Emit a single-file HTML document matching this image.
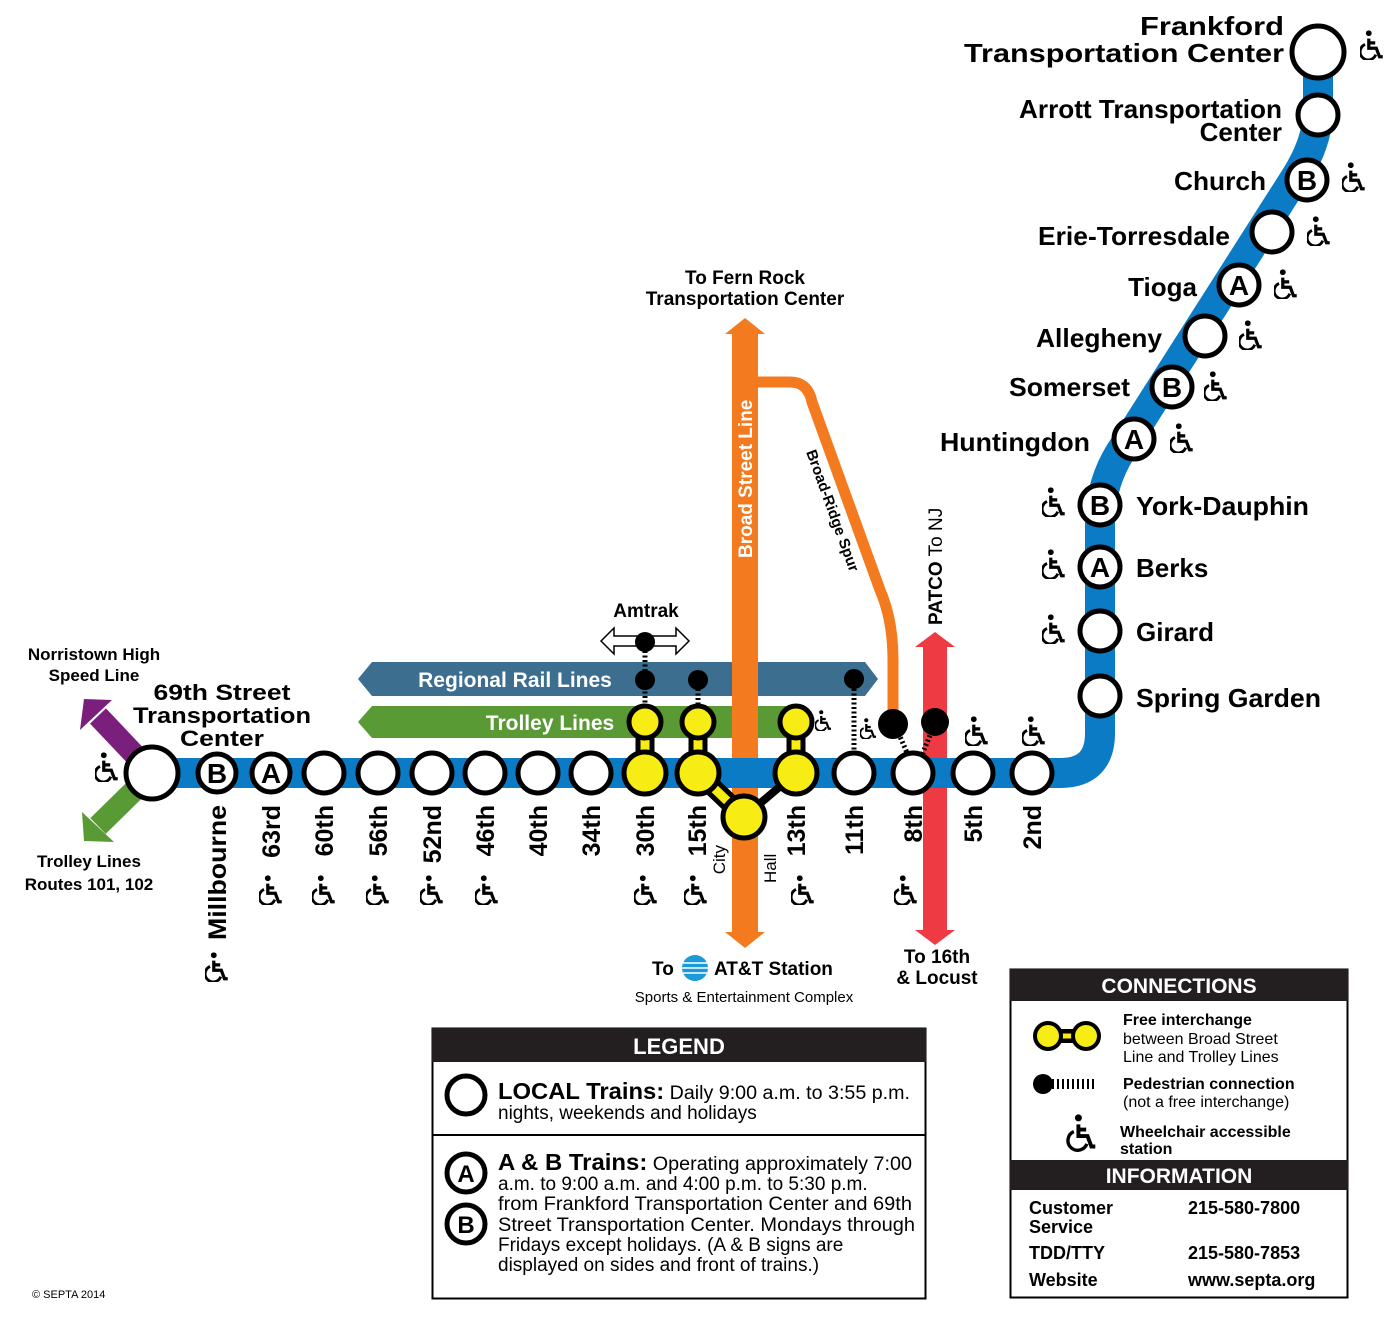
<!DOCTYPE html>
<html><head><meta charset="utf-8"><style>
html,body{margin:0;padding:0;background:#fff}
svg{display:block}
text{font-family:"Liberation Sans",Arial,sans-serif}
.b{font-weight:bold}
</style></head><body>
<svg width="1400" height="1318" viewBox="0 0 1400 1318" xmlns="http://www.w3.org/2000/svg">
<defs>
<symbol id="wc" viewBox="0 0 22 28">
<circle cx="8" cy="3" r="2.7" fill="#000"/>
<path d="M8,8 V17 H15 L18,25 H21 M8,12 H14" fill="none" stroke="#000" stroke-width="3"/>
<path d="M4.5,13.5 A7.5,7.5 0 1 0 14.5,23" fill="none" stroke="#000" stroke-width="2.6"/>
</symbol>
</defs>
<line x1="152" y1="773" x2="98" y2="716" stroke="#7b1f7d" stroke-width="22"/>
<polygon points="84,699 112,700 80,730" fill="#7b1f7d"/>
<line x1="152" y1="773" x2="98" y2="826" stroke="#5a9a35" stroke-width="22"/>
<polygon points="84,841 82,812 114,842" fill="#5a9a35"/>

<rect x="732" y="332" width="26" height="604" fill="#f47a20"/>
<polygon points="745,318 725,334 765,334" fill="#f47a20"/>
<polygon points="745,948 725,932 765,932" fill="#f47a20"/>
<path d="M757,382 H790 Q808,382 812,402 L880,590 Q893,620 893,660 V720" fill="none" stroke="#f47a20" stroke-width="11"/>
<rect x="923" y="645" width="24" height="290" fill="#ee3a43"/>
<polygon points="935,632 915,647 955,647" fill="#ee3a43"/>
<polygon points="935,945 915,930 955,930" fill="#ee3a43"/>

<polygon points="358,679 372,662 865,662 878,679 865,696 372,696" fill="#3b6e8f"/>
<text x="515" y="687" fill="#fff" class="b" font-size="21" text-anchor="middle">Regional Rail Lines</text>
<polygon points="358,722 372,706 800,706 800,738 372,738" fill="#5a9a35"/>
<text x="550" y="730" fill="#fff" class="b" font-size="21" text-anchor="middle">Trolley Lines</text>
<rect x="732" y="655" width="26" height="90" fill="#f47a20"/>

<path d="M152,773 H1060 Q1100,773 1100,733 V525 Q1100,480 1125,445 L1295,178 Q1318,142 1318,110 V52" fill="none" stroke="#0a7bc4" stroke-width="30"/>

<text x="646" y="617" class="b" font-size="19" text-anchor="middle">Amtrak</text>
<polygon points="601,641 614,628 614,636 676,636 676,628 689,641 676,654 676,646 614,646 614,654" fill="#fff" stroke="#000" stroke-width="1.5"/>
<g stroke="#000" stroke-width="5" stroke-dasharray="2,2.5">
<line x1="645" y1="642" x2="645" y2="720"/>
<line x1="698" y1="680" x2="698" y2="720"/>
<line x1="854" y1="680" x2="854" y2="758"/>
<line x1="895" y1="725" x2="908" y2="755"/>
<line x1="935" y1="723" x2="922" y2="755"/>
</g>
<g fill="#000">
<circle cx="645" cy="642" r="10"/><circle cx="645" cy="680" r="10"/><circle cx="698" cy="680" r="10"/><circle cx="854" cy="679" r="10"/>
<circle cx="893" cy="724" r="15"/><circle cx="935" cy="722" r="14"/>
</g>

<g stroke="#000" stroke-width="19" fill="none" stroke-linecap="round">
<path d="M645,722 V773 M698,722 V773 L744,817 M796,773 V722"/>
</g>
<line x1="744" y1="817" x2="796" y2="773" stroke="#000" stroke-width="8"/>
<g stroke="#f7ec13" stroke-width="9" fill="none">
<path d="M645,722 V773 M698,722 V773 L744,817 M796,773 V722"/>
</g>
<g fill="#f7ec13" stroke="#000" stroke-width="5">
<circle cx="645" cy="722" r="16"/><circle cx="645" cy="773" r="21"/>
<circle cx="698" cy="722" r="16"/><circle cx="698" cy="773" r="21"/>
<circle cx="796" cy="722" r="16"/><circle cx="796" cy="773" r="21"/>
<circle cx="744" cy="817" r="21"/>
</g>

<g fill="#fff" stroke="#000" stroke-width="5">
<circle cx="152" cy="773" r="26"/>
<circle cx="217" cy="773" r="19"/><circle cx="271" cy="773" r="19"/>
<circle cx="324" cy="773" r="20"/><circle cx="378" cy="773" r="20"/><circle cx="432" cy="773" r="20"/><circle cx="485" cy="773" r="20"/><circle cx="538" cy="773" r="20"/><circle cx="591" cy="773" r="20"/>
<circle cx="854" cy="773" r="20"/><circle cx="913" cy="773" r="20"/><circle cx="973" cy="773" r="20"/><circle cx="1032" cy="773" r="20"/>
<circle cx="1100" cy="696" r="20"/><circle cx="1100" cy="631" r="20"/><circle cx="1100" cy="567" r="20"/><circle cx="1100" cy="505" r="20"/>
<circle cx="1134" cy="439" r="20"/><circle cx="1172" cy="387" r="20"/><circle cx="1205" cy="336" r="20"/><circle cx="1239" cy="285" r="20"/>
<circle cx="1272" cy="232" r="20"/><circle cx="1307" cy="180" r="20"/><circle cx="1318" cy="115" r="20"/><circle cx="1318" cy="52" r="26"/>
</g>
<g class="b" font-size="28" text-anchor="middle">
<text x="217" y="783">B</text><text x="271" y="783">A</text>
<text x="1100" y="577">A</text><text x="1100" y="515">B</text><text x="1134" y="449">A</text><text x="1172" y="397">B</text><text x="1239" y="295">A</text><text x="1307" y="190">B</text>
</g>

<g class="b" font-size="25" text-anchor="end">
<text transform="translate(226,805) rotate(-90)" textLength="135" lengthAdjust="spacingAndGlyphs">Millbourne</text>
<text transform="translate(280,805) rotate(-90)">63rd</text>
<text transform="translate(333,805) rotate(-90)">60th</text>
<text transform="translate(387,805) rotate(-90)">56th</text>
<text transform="translate(441,805) rotate(-90)">52nd</text>
<text transform="translate(494,805) rotate(-90)">46th</text>
<text transform="translate(547,805) rotate(-90)">40th</text>
<text transform="translate(600,805) rotate(-90)">34th</text>
<text transform="translate(654,805) rotate(-90)">30th</text>
<text transform="translate(706,805) rotate(-90)">15th</text>
<text transform="translate(805,805) rotate(-90)">13th</text>
<text transform="translate(863,805) rotate(-90)">11th</text>
<text transform="translate(922,805) rotate(-90)">8th</text>
<text transform="translate(982,805) rotate(-90)">5th</text>
<text transform="translate(1041,805) rotate(-90)">2nd</text>
</g>
<text transform="translate(725,845) rotate(-90)" font-size="17" text-anchor="end">City</text>
<text transform="translate(776,883) rotate(-90)" font-size="17">Hall</text>

<g>
<use href="#wc" x="205" y="952" width="24" height="30"/>
<use href="#wc" x="259" y="875" width="24" height="30"/>
<use href="#wc" x="312" y="875" width="24" height="30"/>
<use href="#wc" x="366" y="875" width="24" height="30"/>
<use href="#wc" x="420" y="875" width="24" height="30"/>
<use href="#wc" x="475" y="875" width="24" height="30"/>
<use href="#wc" x="634" y="875" width="24" height="30"/>
<use href="#wc" x="684" y="875" width="24" height="30"/>
<use href="#wc" x="791" y="875" width="24" height="30"/>
<use href="#wc" x="894" y="875" width="24" height="30"/>
<use href="#wc" x="95" y="752" width="24" height="30"/>
<use href="#wc" x="965" y="716" width="24" height="30"/>
<use href="#wc" x="1022" y="716" width="24" height="30"/>
<use href="#wc" x="1042" y="487" width="24" height="30"/>
<use href="#wc" x="1042" y="549" width="24" height="30"/>
<use href="#wc" x="1042" y="614" width="24" height="30"/>
<use href="#wc" x="1170" y="423" width="24" height="30"/>
<use href="#wc" x="1204" y="371" width="24" height="30"/>
<use href="#wc" x="1239" y="320" width="24" height="30"/>
<use href="#wc" x="1274" y="269" width="24" height="30"/>
<use href="#wc" x="1307" y="216" width="24" height="30"/>
<use href="#wc" x="1342" y="162" width="24" height="30"/>
<use href="#wc" x="1360" y="30" width="24" height="30"/>
<use href="#wc" x="815" y="710" width="17" height="21"/>
<use href="#wc" x="860" y="718" width="17" height="21"/>
</g>

<g class="b" font-size="26">
<text x="1136" y="707" textLength="185" lengthAdjust="spacingAndGlyphs">Spring Garden</text>
<text x="1136" y="641">Girard</text>
<text x="1136" y="577">Berks</text>
<text x="1136" y="515" textLength="173" lengthAdjust="spacingAndGlyphs">York-Dauphin</text>
</g>
<g class="b" font-size="26" text-anchor="end">
<text x="1090" y="451" textLength="150" lengthAdjust="spacingAndGlyphs">Huntingdon</text>
<text x="1130" y="396" textLength="121" lengthAdjust="spacingAndGlyphs">Somerset</text>
<text x="1162" y="347" textLength="126" lengthAdjust="spacingAndGlyphs">Allegheny</text>
<text x="1197" y="296">Tioga</text>
<text x="1230" y="245" textLength="192" lengthAdjust="spacingAndGlyphs">Erie-Torresdale</text>
<text x="1266" y="190" textLength="92" lengthAdjust="spacingAndGlyphs">Church</text>
<text x="1282" y="118" textLength="263" lengthAdjust="spacingAndGlyphs">Arrott Transportation</text>
<text x="1282" y="141">Center</text>
<text x="1284" y="35" textLength="144" lengthAdjust="spacingAndGlyphs">Frankford</text>
<text x="1284" y="62" textLength="320" lengthAdjust="spacingAndGlyphs">Transportation Center</text>
</g>
<g class="b" font-size="22" text-anchor="middle">
<text x="222" y="700" textLength="137" lengthAdjust="spacingAndGlyphs">69th Street</text>
<text x="222" y="723" textLength="178" lengthAdjust="spacingAndGlyphs">Transportation</text>
<text x="222" y="746" textLength="84" lengthAdjust="spacingAndGlyphs">Center</text>
</g>
<g class="b" font-size="17" text-anchor="middle">
<text x="94" y="660">Norristown High</text>
<text x="94" y="681">Speed Line</text>
<text x="89" y="867">Trolley Lines</text>
<text x="89" y="890">Routes 101, 102</text>
<text x="745" y="284" font-size="19">To Fern Rock</text>
<text x="745" y="305" font-size="19">Transportation Center</text>
<text x="937" y="963" font-size="19">To 16th</text>
<text x="937" y="984" font-size="19">&amp; Locust</text>
</g>
<text transform="translate(752,558) rotate(-90)" class="b" font-size="19" fill="#fff">Broad Street Line</text>
<text transform="translate(806,452) rotate(70)" class="b" font-size="15">Broad-Ridge Spur</text>
<text transform="translate(942,625) rotate(-90)" font-size="19"><tspan class="b">PATCO</tspan> To NJ</text>

<text x="652" y="975" class="b" font-size="19">To</text>
<circle cx="695" cy="968" r="13" fill="#1a9ad6"/>
<g stroke="#fff" stroke-width="1.5"><line x1="683" y1="963" x2="707" y2="963"/><line x1="682" y1="968" x2="708" y2="968"/><line x1="683" y1="973" x2="707" y2="973"/></g>
<text x="714" y="975" class="b" font-size="19">AT&amp;T Station</text>
<text x="744" y="1002" font-size="15" text-anchor="middle">Sports &amp; Entertainment Complex</text>
<text x="32" y="1298" font-size="11">© SEPTA 2014</text>

<rect x="432.5" y="1028.5" width="493" height="270" fill="#fff" stroke="#000" stroke-width="2"/>
<rect x="432" y="1028" width="494" height="34" fill="#231f20"/>
<text x="679" y="1054" fill="#fff" class="b" font-size="22" text-anchor="middle">LEGEND</text>
<line x1="432" y1="1135" x2="926" y2="1135" stroke="#000" stroke-width="2"/>
<g fill="none" stroke="#000" stroke-width="5"><circle cx="466" cy="1095" r="19"/><circle cx="466" cy="1173" r="19"/><circle cx="466" cy="1224" r="19"/></g>
<g class="b" font-size="24" text-anchor="middle"><text x="466" y="1182">A</text><text x="466" y="1233">B</text></g>
<g font-size="19">
<text x="498" y="1099" textLength="412" lengthAdjust="spacingAndGlyphs"><tspan class="b" font-size="23">LOCAL Trains:</tspan> Daily 9:00 a.m. to 3:55 p.m.</text>
<text x="498" y="1119">nights, weekends and holidays</text>
<text x="498" y="1170" textLength="414" lengthAdjust="spacingAndGlyphs"><tspan class="b" font-size="23">A &amp; B Trains:</tspan> Operating approximately 7:00</text>
<text x="498" y="1190">a.m. to 9:00 a.m. and 4:00 p.m. to 5:30 p.m.</text>
<text x="498" y="1210" textLength="414" lengthAdjust="spacingAndGlyphs">from Frankford Transportation Center and 69th</text>
<text x="498" y="1231" textLength="417" lengthAdjust="spacingAndGlyphs">Street Transportation Center. Mondays through</text>
<text x="498" y="1251">Fridays except holidays. (A &amp; B signs are</text>
<text x="498" y="1271">displayed on sides and front of trains.)</text>
</g>

<rect x="1010.5" y="969.5" width="337" height="328" fill="#fff" stroke="#000" stroke-width="2"/>
<rect x="1010" y="969" width="338" height="32" fill="#231f20"/>
<text x="1179" y="993" fill="#fff" class="b" font-size="21" text-anchor="middle">CONNECTIONS</text>
<line x1="1048" y1="1036" x2="1086" y2="1036" stroke="#000" stroke-width="14"/>
<line x1="1048" y1="1036" x2="1086" y2="1036" stroke="#f7ec13" stroke-width="5"/>
<g fill="#f7ec13" stroke="#000" stroke-width="4"><circle cx="1048" cy="1036" r="13"/><circle cx="1086" cy="1036" r="13"/></g>
<circle cx="1043" cy="1084" r="10" fill="#000"/>
<line x1="1052" y1="1084" x2="1095" y2="1084" stroke="#000" stroke-width="10" stroke-dasharray="2,3"/>
<g transform="translate(1068,1114) scale(1.3)">
<circle cx="8" cy="3" r="2.7" fill="#000"/>
<path d="M8,8 V17 H15 L18,25 H21 M8,12 H14" fill="none" stroke="#000" stroke-width="3"/>
<path d="M4.5,13.5 A7.5,7.5 0 1 0 14.5,23" fill="none" stroke="#000" stroke-width="2.6"/>
</g>
<g font-size="16">
<text x="1123" y="1025" class="b">Free interchange</text>
<text x="1123" y="1044">between Broad Street</text>
<text x="1123" y="1062">Line and Trolley Lines</text>
<text x="1123" y="1089" class="b">Pedestrian connection</text>
<text x="1123" y="1107">(not a free interchange)</text>
<text x="1120" y="1137" class="b">Wheelchair accessible</text>
<text x="1120" y="1154" class="b">station</text>
</g>
<rect x="1010" y="1160" width="338" height="30" fill="#231f20"/>
<text x="1179" y="1183" fill="#fff" class="b" font-size="21" text-anchor="middle">INFORMATION</text>
<g class="b" font-size="18">
<text x="1029" y="1214">Customer</text><text x="1029" y="1233">Service</text>
<text x="1188" y="1214">215-580-7800</text>
<text x="1029" y="1259">TDD/TTY</text><text x="1188" y="1259">215-580-7853</text>
<text x="1029" y="1286">Website</text><text x="1188" y="1286">www.septa.org</text>
</g>
</svg>
</body></html>
